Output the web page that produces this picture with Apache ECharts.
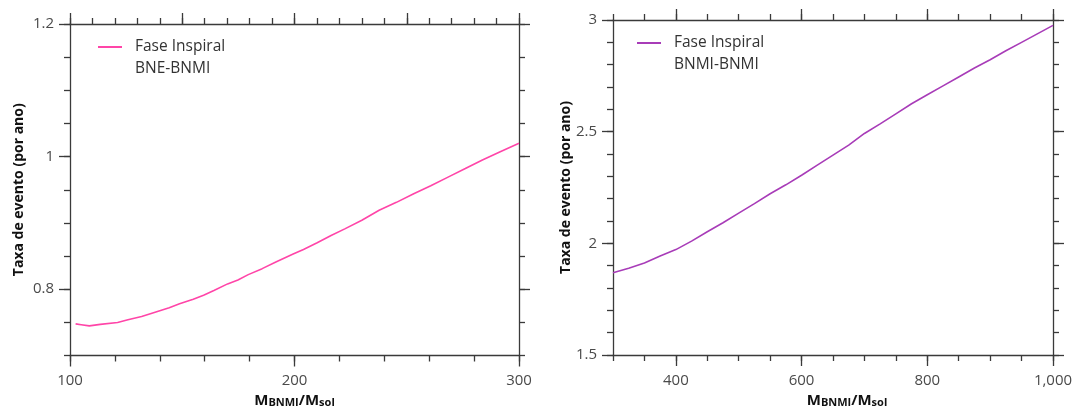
<!DOCTYPE html>
<html>
<head>
<meta charset="utf-8">
<script src="https://cdn.jsdelivr.net/npm/echarts@6/dist/echarts.min.js"></script>
<style>
  html, body { margin: 0; padding: 0; background: #fff; }
  #chart { width: 1077px; height: 407px; }
</style>
</head>
<body>
<div id="chart"></div>
<script>
// ---- Data: left panel (BNE-BNMI) ----
const leftMass = [102.5, 105, 108.6, 113.5, 121.2, 125.8, 131.9, 136.5, 144.2, 148.8, 154.9, 159.5, 164.1, 170.2, 174.8, 179.4, 185.6, 191.7, 199.4, 204, 210.1, 216.3, 222.4, 230, 237.7, 245.4, 253.1, 260.7, 268.4, 276.1, 283.7, 291.4, 300];
const leftRate = [0.7477, 0.7465, 0.7447, 0.747, 0.7497, 0.7538, 0.7588, 0.7638, 0.7719, 0.7779, 0.785, 0.791, 0.798, 0.808, 0.814, 0.822, 0.831, 0.841, 0.853, 0.860, 0.870, 0.881, 0.891, 0.904, 0.919, 0.931, 0.944, 0.956, 0.969, 0.982, 0.995, 1.007, 1.020];

// ---- Data: right panel (BNMI-BNMI) ----
const rightMass = [300, 325, 350, 375, 400, 425, 450, 475, 500, 525, 550, 575, 600, 625, 650, 675, 700, 725, 750, 775, 800, 825, 850, 875, 900, 925, 950, 975, 1000];
const rightRate = [1.868, 1.888, 1.912, 1.943, 1.972, 2.010, 2.052, 2.092, 2.135, 2.178, 2.222, 2.262, 2.305, 2.350, 2.395, 2.440, 2.492, 2.535, 2.580, 2.625, 2.665, 2.705, 2.745, 2.785, 2.822, 2.862, 2.900, 2.938, 2.976];

// ---- Tick values and labels ----
const leftXTicks = [100, 200, 300];
const leftXTickLabels = ['100', '200', '300'];
const leftTopTicks = [100, 150, 200, 250, 300];
const leftYTicks = [0.8, 1, 1.2];
const leftYTickLabels = ['0.8', '1', '1.2'];
const rightXTicks = [400, 600, 800, 1000];
const rightXTickLabels = ['400', '600', '800', '1,000'];
const rightYTicks = [1.5, 2, 2.5, 3];
const rightYTickLabels = ['1.5', '2', '2.5', '3'];

const legendTitle = 'Fase Inspiral';
const leftLegendSub = 'BNE-BNMI';
const rightLegendSub = 'BNMI-BNMI';
const yTitle = 'Taxa de evento (por ano)';

const FONT = 'Open Sans';
const AXIS_COLOR = '#3a3a3a';
const LABEL_COLOR = '#4a4a4a';

function labelFor(ticks, labels) {
  return function (v) {
    for (let i = 0; i < ticks.length; i++) {
      if (Math.abs(ticks[i] - v) < 1e-9) return labels[i];
    }
    return '';
  };
}

const xName = '{a|M}{b|BNMI}{a|/M}{b|sol}';
function xNameStyle(shift) {
  return {
    padding: [0, 0, 0, shift],
    rich: {
      a: { fontFamily: FONT, fontSize: 15, fontWeight: 'bold', color: '#111', lineHeight: 18, verticalAlign: 'bottom' },
      b: { fontFamily: FONT, fontSize: 11, fontWeight: 'bold', color: '#111', lineHeight: 18, verticalAlign: 'bottom', padding: [3, 0, 0, 0] }
    }
  };
}

function axesFor(dim, gridIndex, cfg) {
  const posA = dim === 'x' ? 'bottom' : 'left';
  const posB = dim === 'x' ? 'top' : 'right';
  const base = { type: 'value', gridIndex: gridIndex, min: cfg.min, max: cfg.max, splitLine: { show: false } };
  const line = { show: true, lineStyle: { color: AXIS_COLOR, width: 1.3 } };
  const minorA = Object.assign({}, base, {
    position: posA, interval: cfg.minorA,
    axisLine: line,
    axisTick: { show: true, inside: false, length: 6, lineStyle: { color: AXIS_COLOR, width: 1.3 } },
    axisLabel: { show: false }
  }, cfg.name ? cfg.name : {});
  const majorA = Object.assign({}, base, {
    position: posA, interval: cfg.minorA,
    axisLine: { show: false },
    axisTick: { show: true, inside: false, length: 11, customValues: cfg.majorA, lineStyle: { color: AXIS_COLOR, width: 1.3 } },
    axisLabel: { show: true, customValues: cfg.majorA, formatter: labelFor(cfg.majorA, cfg.labelsA),
      margin: dim === 'x' ? 18 : 16, color: LABEL_COLOR, fontFamily: FONT, fontSize: 15 }
  });
  const minorB = Object.assign({}, base, {
    position: posB, interval: cfg.minorB,
    axisLine: line,
    axisTick: { show: true, inside: false, length: 6, lineStyle: { color: AXIS_COLOR, width: 1.3 } },
    axisLabel: { show: false }
  });
  const majorB = Object.assign({}, base, {
    position: posB, interval: cfg.minorB,
    axisLine: { show: false },
    axisTick: { show: true, inside: false, length: 11, customValues: cfg.majorB, lineStyle: { color: AXIS_COLOR, width: 1.3 } },
    axisLabel: { show: false }
  });
  return [minorA, majorA, minorB, majorB];
}

function xNameOpt(shift) {
  return { name: xName, nameLocation: 'middle', nameGap: 35, nameTextStyle: xNameStyle(shift) };
}
function yNameOpt(gap) {
  return { name: yTitle, nameLocation: 'middle', nameGap: gap,
    nameTextStyle: { fontFamily: FONT, fontSize: 14, fontWeight: 'bold', color: '#111' } };
}

const xAxes = []
  .concat(axesFor('x', 0, { min: 100, max: 300, minorA: 20, majorA: leftXTicks, labelsA: leftXTickLabels, minorB: 10, majorB: leftTopTicks, name: xNameOpt(0) }))
  .concat(axesFor('x', 1, { min: 300, max: 1000, minorA: 50, majorA: rightXTicks, labelsA: rightXTickLabels, minorB: 50, majorB: rightXTicks, name: xNameOpt(28) }));
const yAxes = []
  .concat(axesFor('y', 0, { min: 0.7, max: 1.2, minorA: 0.05, majorA: leftYTicks, labelsA: leftYTickLabels, minorB: 0.05, majorB: leftYTicks, name: yNameOpt(44) }))
  .concat(axesFor('y', 1, { min: 1.5, max: 3, minorA: 0.1, majorA: rightYTicks, labelsA: rightYTickLabels, minorB: 0.1, majorB: rightYTicks, name: yNameOpt(40) }));

function pairs(xs, ys) { return xs.map((x, i) => [x, ys[i]]); }

const PINK = '#ff45a8';
const PURPLE = '#a83cb8';

const legendText = { fontFamily: FONT, fontSize: 15.5, color: '#333', padding: [0, 0, 0, 8] };

const option = {
  animation: false,
  backgroundColor: '#ffffff',
  grid: [
    { left: 70, right: 558, top: 24, bottom: 51.5, show: false, outerBoundsMode: 'none', containLabel: false },
    { left: 613, right: 24, top: 20, bottom: 52, show: false, outerBoundsMode: 'none', containLabel: false }
  ],
  xAxis: xAxes,
  yAxis: yAxes,
  legend: [
    { left: 97, top: 39, padding: 0, orient: 'vertical', itemWidth: 24, itemHeight: 14, itemGap: 6,
      itemStyle: { opacity: 0 },
      data: [{ name: legendTitle + ' ' }, { name: leftLegendSub, icon: 'none' }], textStyle: legendText,
      selectedMode: false },
    { left: 636, top: 35, padding: 0, orient: 'vertical', itemWidth: 24, itemHeight: 14, itemGap: 6,
      itemStyle: { opacity: 0 },
      data: [{ name: legendTitle }, { name: rightLegendSub, icon: 'none' }], textStyle: legendText,
      selectedMode: false }
  ],
  series: [
    { name: legendTitle + ' ', type: 'line', xAxisIndex: 0, yAxisIndex: 0, showSymbol: false, symbol: 'none',
      lineStyle: { color: PINK, width: 1.6 }, itemStyle: { color: PINK }, data: pairs(leftMass, leftRate) },
    { name: leftLegendSub, type: 'line', xAxisIndex: 0, yAxisIndex: 0, symbol: 'none',
      lineStyle: { color: 'rgba(0,0,0,0)' }, itemStyle: { color: 'rgba(0,0,0,0)' }, data: [] },
    { name: legendTitle, type: 'line', xAxisIndex: 4, yAxisIndex: 4, showSymbol: false, symbol: 'none',
      lineStyle: { color: PURPLE, width: 1.6 }, itemStyle: { color: PURPLE }, data: pairs(rightMass, rightRate) },
    { name: rightLegendSub, type: 'line', xAxisIndex: 4, yAxisIndex: 4, symbol: 'none',
      lineStyle: { color: 'rgba(0,0,0,0)' }, itemStyle: { color: 'rgba(0,0,0,0)' }, data: [] }
  ]
};

const chart = echarts.init(document.getElementById('chart'), null, { renderer: 'canvas' });
chart.setOption(option);
</script>
</body>
</html>
